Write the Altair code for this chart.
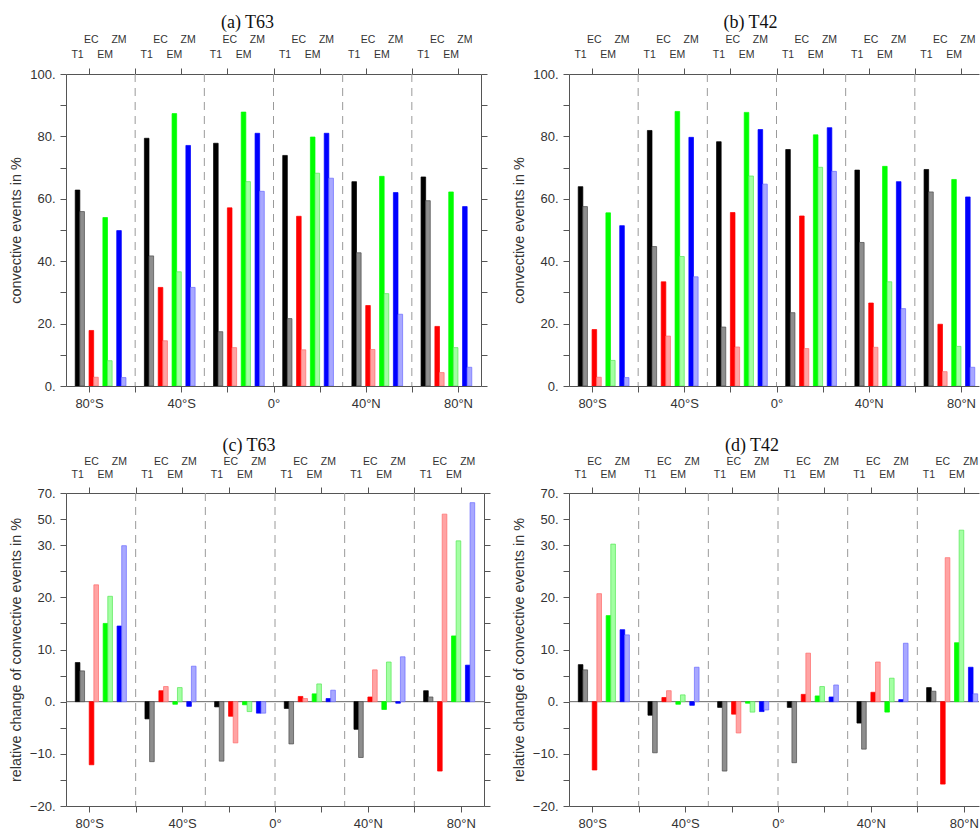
import altair as alt
import pandas as pd

# latitude bands (start of each 30-degree band) and the four schemes
BAND_START = [-90, -60, -30, 0, 30, 60]
MODELS = ["T1", "EC", "EM", "ZM"]
UPPER_ROW = ["EC", "ZM"]

SOLID = {"T1": "#000000", "EC": "#ff0000", "EM": "#00ff00", "ZM": "#0000ff"}
HATCH_FILL = {"T1": "#8e8e8e", "EC": "#ffa3a3", "EM": "#a3ffa3", "ZM": "#a8a8ff"}
HATCH_EDGE = {"T1": "#4a4a4a", "EC": "#ff6a6a", "EM": "#55e855", "ZM": "#6a6aff"}

# (a) T63: convective events in % (solid / hatched per scheme, one value per band)
a_T1 = [62.8, 79.4, 77.8, 73.9, 65.5, 67.0]
a_T1_h = [55.9, 41.7, 17.4, 21.6, 42.7, 59.4]
a_EC = [17.8, 31.6, 57.1, 54.4, 25.8, 19.1]
a_EC_h = [2.8, 14.5, 12.3, 11.6, 11.7, 4.3]
a_EM = [54.0, 87.3, 87.8, 79.8, 67.2, 62.2]
a_EM_h = [8.1, 36.6, 65.5, 68.2, 29.6, 12.3]
a_ZM = [49.8, 77.1, 81.0, 81.0, 62.0, 57.5]
a_ZM_h = [2.7, 31.6, 62.4, 66.6, 23.0, 6.0]

# (b) T42
b_T1 = [63.9, 81.9, 78.3, 75.8, 69.2, 69.4]
b_T1_h = [57.5, 44.7, 18.9, 23.5, 46.0, 62.2]
b_EC = [18.1, 33.4, 55.6, 54.5, 26.6, 19.8]
b_EC_h = [2.8, 16.0, 12.5, 12.0, 12.4, 4.6]
b_EM = [55.5, 88.0, 87.7, 80.5, 70.4, 66.2]
b_EM_h = [8.2, 41.5, 67.3, 70.1, 33.4, 12.7]
b_ZM = [51.4, 79.7, 82.2, 82.8, 65.5, 60.6]
b_ZM_h = [2.7, 35.0, 64.7, 68.8, 24.8, 6.0]

# (c) T63: relative change of convective events in %
c_T1 = [7.5, -3.3, -1.0, -1.3, -5.3, 2.1]
c_T1_h = [5.9, -11.5, -11.4, -8.1, -10.7, 0.9]
c_EC = [-12.1, 2.1, -2.8, 1.0, 0.9, -13.3]
c_EC_h = [22.4, 2.9, -7.9, 0.6, 6.1, 53.8]
c_EM = [15.0, -0.5, -0.6, 1.5, -1.5, 12.6]
c_EM_h = [20.2, 2.7, -1.9, 3.4, 7.6, 33.3]
c_ZM = [14.5, -0.9, -2.2, 0.6, -0.3, 7.0]
c_ZM_h = [29.9, 6.8, -2.2, 2.2, 8.6, 62.6]

# (d) T42
d_T1 = [7.1, -2.6, -1.1, -1.1, -4.1, 2.7]
d_T1_h = [6.1, -9.8, -13.3, -11.7, -9.1, 2.0]
d_EC = [-13.1, 0.8, -2.4, 1.4, 1.8, -15.8]
d_EC_h = [20.7, 2.1, -6.0, 9.3, 7.6, 27.6]
d_EM = [16.5, -0.5, -0.3, 1.1, -2.0, 11.3]
d_EM_h = [30.8, 1.3, -2.0, 2.9, 4.5, 41.5]
d_ZM = [13.8, -0.7, -1.9, 0.9, 0.4, 6.6]
d_ZM_h = [12.8, 6.6, -1.6, 3.2, 11.2, 1.5]

LAT_TICKS = [-80, -60, -40, -20, 0, 20, 40, 60, 80]
SEPARATORS = [-60, -30, 0, 30, 60]
ABS_TICKS = list(range(0, 101, 10))
REL_TICKS = [-20, -15, -10, -5, 0, 5, 10, 15, 20, 25, 30, 50, 70]

SANS = "Liberation Sans"
SERIF = "Liberation Serif"
TEXT = "#333333"
AXIS = "#555555"


def bar_table(series):
    rows = []
    for m_i, m in enumerate(MODELS):
        solid, hatched = series[m]
        for g, start in enumerate(BAND_START):
            centre = start + 6 * (m_i + 1)
            rows.append(dict(x0=centre - 2, x1=centre, value=solid[g],
                             fill=SOLID[m], edge=SOLID[m]))
            rows.append(dict(x0=centre, x1=centre + 2, value=hatched[g],
                             fill=HATCH_FILL[m], edge=HATCH_EDGE[m]))
    return pd.DataFrame(rows)


def label_table(upper):
    rows = []
    for m_i, m in enumerate(MODELS):
        if (m in UPPER_ROW) != upper:
            continue
        for start in BAND_START:
            rows.append(dict(x=start + 6 * (m_i + 1) - 1, name=m))
    return pd.DataFrame(rows)


def panel(title, series, width, full_width, xmax, kind, right_axis):
    xs = alt.Scale(domain=[-90, xmax], nice=False, zero=False)
    if kind == "abs":
        H = 312
        ys = alt.Scale(domain=[0, 100], nice=False, zero=False)
        yticks = ABS_TICKS
        ylab = "datum.value % 20 == 0 ? datum.value + '.' : ''"
        ytitle = "convective events in %"
        t_dy, up_dy, low_dy = -51, -34.5, -19.5
    else:
        H = 313
        ys = alt.Scale(domain=[-20, 30, 70], range=[H, H / 6, 0], nice=False, zero=False)
        yticks = REL_TICKS
        ylab = ("datum.value % 10 == 0 ? "
                "(datum.value < 0 ? '\u2212' + abs(datum.value) : '' + datum.value) + '.' : ''")
        ytitle = "relative change of convective events in %"
        t_dy, up_dy, low_dy = -47, -30.6, -17.6

    left_axis = alt.Axis(orient="left", values=yticks, labelExpr=ylab, title=ytitle,
                         titleX=-50, titleY=H / 2, titleAngle=270, titleAlign="center",
                         titleBaseline="middle", labelPadding=5)
    bottom_axis = alt.Axis(
        orient="bottom", values=LAT_TICKS, title=None, labelPadding=5,
        labelExpr="datum.value == 0 ? '0°' : (abs(datum.value) % 40 == 0 ? "
                  "abs(datum.value) + (datum.value < 0 ? '°S' : '°N') : '')")
    top_axis = alt.Axis(orient="top", values=LAT_TICKS, labels=False, title=None)
    r_axis = alt.Axis(orient="right", values=yticks, labels=False, title=None) if right_axis else None

    layers = []
    if kind == "rel":
        layers.append(
            alt.Chart(pd.DataFrame({"y": [0]})).mark_rule(color="#666666", strokeWidth=1)
            .encode(y=alt.Y("y:Q", scale=ys, axis=None))
        )
    layers.append(
        alt.Chart(pd.DataFrame({"x": SEPARATORS})).mark_rule(
            color="#9a9a9a", strokeWidth=1, strokeDash=[8, 6])
        .encode(x=alt.X("x:Q", scale=xs, axis=None))
    )
    layers.append(
        alt.Chart(bar_table(series)).mark_bar(strokeWidth=0.7, clip=True)
        .encode(
            x=alt.X("x0:Q", scale=xs, axis=bottom_axis),
            x2="x1:Q",
            y=alt.Y("value:Q", scale=ys, axis=left_axis),
            y2=alt.datum(0),
            fill=alt.Fill("fill:N", scale=None),
            stroke=alt.Stroke("edge:N", scale=None),
        )
    )
    for upper, dy in ((True, up_dy), (False, low_dy)):
        layers.append(
            alt.Chart(label_table(upper)).mark_text(
                font=SANS, fontSize=10.5, color=TEXT, baseline="middle")
            .encode(x=alt.X("x:Q", scale=xs, axis=None), y=alt.value(dy), text="name:N")
        )
    layers.append(
        alt.Chart(pd.DataFrame({"t": [title]})).mark_text(
            font=SERIF, fontSize=18, color="#111111", baseline="middle")
        .encode(x=alt.value(full_width / 2 - 26), y=alt.value(t_dy), text="t:N")
    )
    layers.append(
        alt.Chart(pd.DataFrame({"x": [-90], "y": [yticks[0]]})).mark_point(opacity=0)
        .encode(x=alt.X("x:Q", scale=xs, axis=top_axis),
                y=alt.Y("y:Q", scale=ys, axis=r_axis))
    )
    return (alt.layer(*layers)
            .resolve_axis(x="independent", y="independent")
            .properties(width=width, height=H))


def series(T1, T1h, EC, ECh, EM, EMh, ZM, ZMh):
    return {"T1": (T1, T1h), "EC": (EC, ECh), "EM": (EM, EMh), "ZM": (ZM, ZMh)}


TOP_W = 415
BOT_W = 418
COL_GAP = 85
RIGHT_W = 410

pa = panel("(a) T63", series(a_T1, a_T1_h, a_EC, a_EC_h, a_EM, a_EM_h, a_ZM, a_ZM_h),
           TOP_W, TOP_W, 90, "abs", True)
pb = panel("(b) T42", series(b_T1, b_T1_h, b_EC, b_EC_h, b_EM, b_EM_h, b_ZM, b_ZM_h),
           RIGHT_W, TOP_W, -90 + RIGHT_W * 180 / TOP_W, "abs", False)
pc = panel("(c) T63", series(c_T1, c_T1_h, c_EC, c_EC_h, c_EM, c_EM_h, c_ZM, c_ZM_h),
           BOT_W, BOT_W, 90, "rel", True)
pd_ = panel("(d) T42", series(d_T1, d_T1_h, d_EC, d_EC_h, d_EM, d_EM_h, d_ZM, d_ZM_h),
            RIGHT_W, BOT_W, -90 + RIGHT_W * 180 / BOT_W, "rel", False)

chart = (
    alt.concat(pa, pb, pc, pd_, columns=2, bounds="flush",
               spacing={"row": 107, "column": COL_GAP})
    .properties(padding={"left": 7, "top": 14, "right": 0, "bottom": 0})
    .configure_view(stroke=None)
    .configure_axis(
        grid=False, domainColor=AXIS, tickColor=AXIS, tickSize=6, domainWidth=1,
        labelFont=SANS, labelFontSize=13, labelColor=TEXT,
        titleFont=SANS, titleFontSize=14.4, titleColor=TEXT, titleFontWeight="normal",
    )
)

chart.save("out.html", embed_options={"renderer": "svg", "actions": False})
